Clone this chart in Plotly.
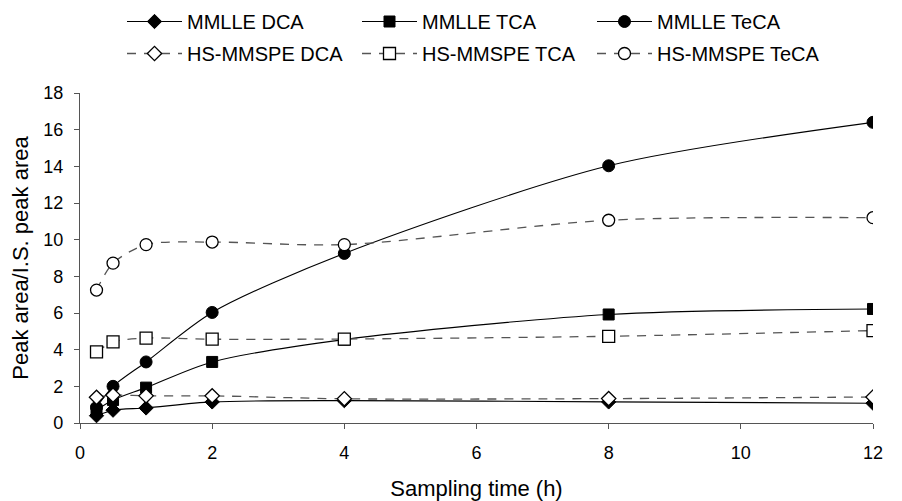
import plotly.graph_objects as go

time_h = [0.25, 0.5, 1, 2, 4, 8, 12]

mmlle_dca = [0.4, 0.7, 0.82, 1.15, 1.22, 1.15, 1.08]
mmlle_tca = [0.7, 1.25, 1.93, 3.33, 4.55, 5.92, 6.22]
mmlle_teca = [0.85, 2.0, 3.33, 6.03, 9.25, 14.03, 16.4]
hs_dca = [1.4, 1.52, 1.48, 1.48, 1.32, 1.33, 1.42]
hs_tca = [3.88, 4.42, 4.63, 4.57, 4.58, 4.73, 5.04]
hs_teca = [7.25, 8.72, 9.73, 9.87, 9.73, 11.06, 11.2]

series_names = ["MMLLE DCA", "MMLLE TCA", "MMLLE TeCA",
                "HS-MMSPE DCA", "HS-MMSPE TCA", "HS-MMSPE TeCA"]

FONT = "Liberation Sans, Arial, sans-serif"

fig = go.Figure()

solid_specs = [(mmlle_dca, "diamond", 11), (mmlle_tca, "square", 11), (mmlle_teca, "circle", 12)]
dash_specs = [(hs_dca, "diamond", 11), (hs_tca, "square", 12), (hs_teca, "circle", 12)]

for i, (vals, sym, sz) in enumerate(solid_specs):
    fig.add_trace(go.Scatter(
        x=time_h, y=vals, name=series_names[i], mode="lines+markers",
        line=dict(color="black", width=1.1, shape="spline", smoothing=0.8),
        marker=dict(symbol=sym, size=sz, color="black", line=dict(color="black", width=1)),
        legend="legend",
    ))

for i, (vals, sym, sz) in enumerate(dash_specs):
    fig.add_trace(go.Scatter(
        x=time_h, y=vals, name=series_names[3 + i], mode="lines+markers",
        line=dict(color="#555555", width=1.3, dash="9px,8px", shape="spline", smoothing=0.8),
        marker=dict(symbol=sym, size=sz, color="white", line=dict(color="black", width=1.3)),
        legend="legend2",
    ))

axis_common = dict(
    showgrid=False, zeroline=False, showline=True, linecolor="#555555", linewidth=1.2,
    ticks="outside", tickcolor="#555555", ticklen=5, tickwidth=1.2, automargin=False,
    tickfont=dict(family=FONT, size=18, color="black"),
)

leg_common = dict(
    orientation="h", xref="container", yref="container", xanchor="left", yanchor="middle",
    font=dict(family=FONT, size=20, color="black"), itemwidth=55,
    entrywidth=165, entrywidthmode="pixels", bgcolor="rgba(0,0,0,0)",
    tracegroupgap=0, itemclick=False,
)

fig.update_layout(
    template="none",
    width=902, height=501,
    margin=dict(l=80, r=29, t=93, b=78, autoexpand=False),
    plot_bgcolor="white", paper_bgcolor="white",
    hovermode=False,
    xaxis=dict(range=[0, 12], tickvals=[0, 2, 4, 6, 8, 10, 12], ticklabelstandoff=8,
               title=dict(text="Sampling time (h)", font=dict(family=FONT, size=22, color="black"), standoff=26),
               **axis_common),
    yaxis=dict(range=[0, 18], tickvals=[0, 2, 4, 6, 8, 10, 12, 14, 16, 18], ticklabelstandoff=7,
               title=dict(text="Peak area/I.S. peak area", font=dict(family=FONT, size=22, color="black"), standoff=8),
               **axis_common),
    legend=dict(x=122 / 902, y=1 - 21.5 / 501, **leg_common),
    legend2=dict(x=122 / 902, y=1 - 53.5 / 501, **leg_common),
    showlegend=True,
)

fig.write_html("out.html", config={"displayModeBar": False},
               post_script="document.body.style.margin='0px';document.body.style.overflow='hidden';")
